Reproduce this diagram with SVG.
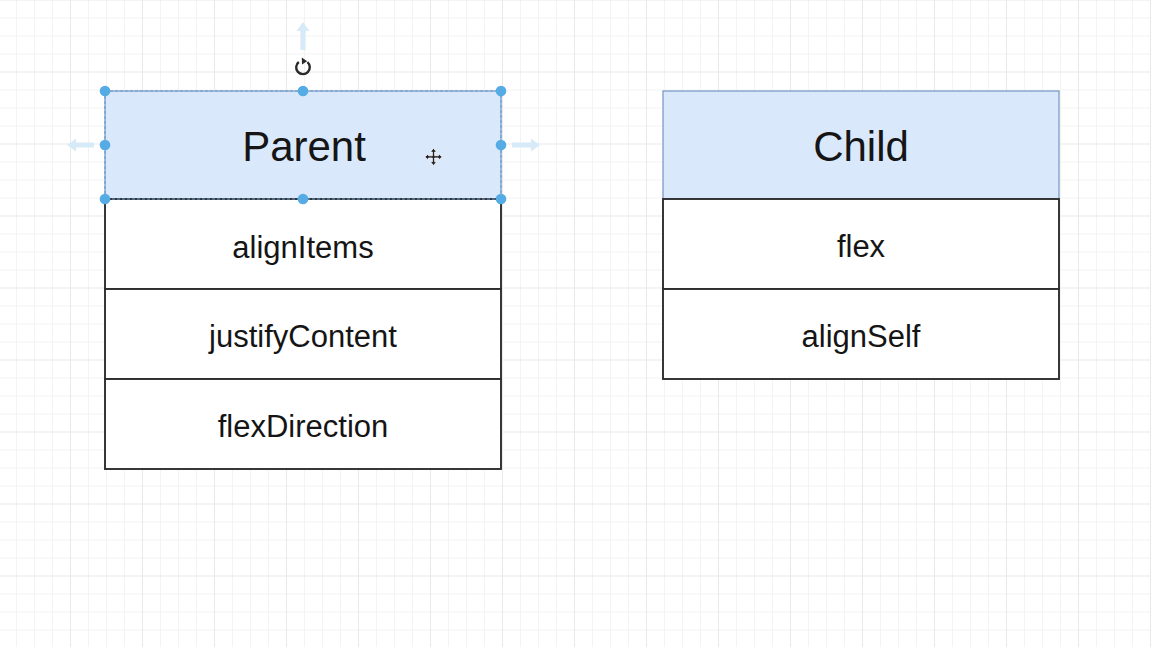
<svg xmlns="http://www.w3.org/2000/svg" width="1151" height="647" viewBox="0 0 1151 647">
  <style>
    .hdr { fill: #dae8fc; stroke: #7d9ac6; stroke-width: 1.3; }
    .row { fill: #ffffff; stroke: #2e2e2e; stroke-width: 1.9; }
    .title { font-family: "Liberation Sans", Arial, sans-serif; font-size: 42px; fill: #151515; text-anchor: middle; }
    .item { font-family: "Liberation Sans", Arial, sans-serif; font-size: 31px; fill: #151515; text-anchor: middle; }
    .handle { fill: #55ace4; }
    .sel { fill: none; stroke: #6a9fd4; stroke-width: 1.2; stroke-dasharray: 3 2; }
    .hint { fill: #d6eaf8; }
  </style>
  <defs>
    <pattern id="grid" patternUnits="userSpaceOnUse" x="70" y="71.5" width="72" height="72">
      <rect width="72" height="72" fill="#ffffff"/>
      <path d="M18.5 0V72M36.5 0V72M54.5 0V72M0 18.5H72M0 36.5H72M0 54.5H72" stroke="#f3f3f3" stroke-width="1" fill="none"/>
      <path d="M0.5 0V72M0 0.5H72" stroke="#e9e9e9" stroke-width="1" fill="none"/>
    </pattern>
  </defs>

  <rect x="0" y="0" width="1151" height="647" fill="url(#grid)"/>

  <g id="parent">
    <rect class="hdr" x="105" y="91" width="396" height="108"/>
    <text class="title" x="304" y="161">Parent</text>
    <rect class="row" x="105" y="199" width="396" height="90"/>
    <text class="item" x="303" y="258">alignItems</text>
    <rect class="row" x="105" y="289" width="396" height="90"/>
    <text class="item" x="303" y="347">justifyContent</text>
    <rect class="row" x="105" y="379" width="396" height="90"/>
    <text class="item" x="303" y="437">flexDirection</text>
  </g>

  <g id="child">
    <rect class="hdr" x="663" y="91" width="396" height="108"/>
    <text class="title" x="861" y="161">Child</text>
    <rect class="row" x="663" y="199" width="396" height="90"/>
    <text class="item" x="861" y="257">flex</text>
    <rect class="row" x="663" y="289" width="396" height="90"/>
    <text class="item" x="861" y="347">alignSelf</text>
  </g>

  <g id="connectors"/>

  <g id="selection">
    <rect class="sel" x="105" y="91" width="396" height="108"/>
    <path class="hint" d="M303 22 L309.5 31 L305.6 31 L305.6 50 L300.4 50 L300.4 31 L296.5 31 Z"/>
    <path class="hint" d="M67 145 L76 138.5 L76 142.4 L94 142.4 L94 147.6 L76 147.6 L76 151.5 Z"/>
    <path class="hint" d="M540 145 L531 138.5 L531 142.4 L512 142.4 L512 147.6 L531 147.6 L531 151.5 Z"/>
    <path d="M298.8 62.0 A6.8 6.8 0 1 0 307.4 62.2" fill="none" stroke="#2a2a2a" stroke-width="2.4"/>
    <path d="M301.8 57.4 L307.2 61.2 L302.0 64.6 Z" fill="#2a2a2a"/>
    <circle class="handle" cx="105" cy="91" r="5.3"/>
    <circle class="handle" cx="303" cy="91" r="5.3"/>
    <circle class="handle" cx="501" cy="91" r="5.3"/>
    <circle class="handle" cx="105" cy="145" r="5.3"/>
    <circle class="handle" cx="501" cy="145" r="5.3"/>
    <circle class="handle" cx="105" cy="199" r="5.3"/>
    <circle class="handle" cx="303" cy="199" r="5.3"/>
    <circle class="handle" cx="501" cy="199" r="5.3"/>
    <g transform="translate(433.5 156.9) scale(1.25) translate(-433.5 -156.9)">
      <path d="M433.5 150 L436 153 L434.4 153 L434.4 156 L437.5 156 L437.5 154.4 L440.5 156.9 L437.5 159.4 L437.5 157.8 L434.4 157.8 L434.4 160.8 L436 160.8 L433.5 163.8 L431 160.8 L432.6 160.8 L432.6 157.8 L429.5 157.8 L429.5 159.4 L426.5 156.9 L429.5 154.4 L429.5 156 L432.6 156 L432.6 153 L431 153 Z" fill="#222222" stroke="#ffffff" stroke-width="0.6"/>
    </g>
  </g>
</svg>
